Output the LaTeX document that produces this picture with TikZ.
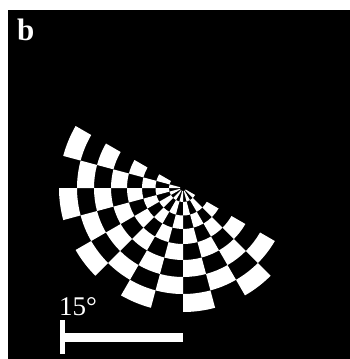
\documentclass[tikz,border=0pt]{standalone}
\usepackage{fontspec}
\setmainfont{Liberation Serif}
\usetikzlibrary{positioning}
\begin{document}
\begin{tikzpicture}[x=1pt, y=1pt,
    cell/.style={fill=white},
    bar/.style={fill=white},
    whitetext/.style={text=white, inner sep=0pt, font=\fontsize{27}{27}\selectfont}
]
    \useasboundingbox (0,0) rectangle (350,-359);
    \fill[black] (8,-10) rectangle (350,-359);
    \coordinate (centre) at (183,-188);
    \foreach \ri/\ro [count=\j] in {3/14, 14/27.5, 27.5/41, 41/56, 56/72, 72/89, 89/106, 106/124} {
        \foreach \k [evaluate=\k as \a using 150+15*\k,
                     evaluate=\k as \b using 165+15*\k] in {0,...,11} {
            \pgfmathtruncatemacro{\parity}{mod(\j+\k,2)}
            \ifnum\parity=0
                \fill[cell] ([shift={(\a:\ri)}]centre) arc[start angle=\a, end angle=\b, radius=\ri]
                    -- ([shift={(\b:\ro)}]centre) arc[start angle=\b, end angle=\a, radius=\ro] -- cycle;
            \fi
        }
    }
    \node[whitetext, font=\fontsize{31}{31}\selectfont\bfseries, anchor=base west] (panel) at (17,-40) {b};
    \node[whitetext, anchor=base west] (scale) at (59,-315) {15°};
    \coordinate (barstart) at (60,-320);
    \coordinate (barend) at (183,-342);
    \fill[bar] (barstart) rectangle ([xshift=5pt, yshift=-34pt]barstart);
    \fill[bar] ([xshift=3pt, yshift=-13pt]barstart) rectangle (barend);
\end{tikzpicture}
\end{document}
